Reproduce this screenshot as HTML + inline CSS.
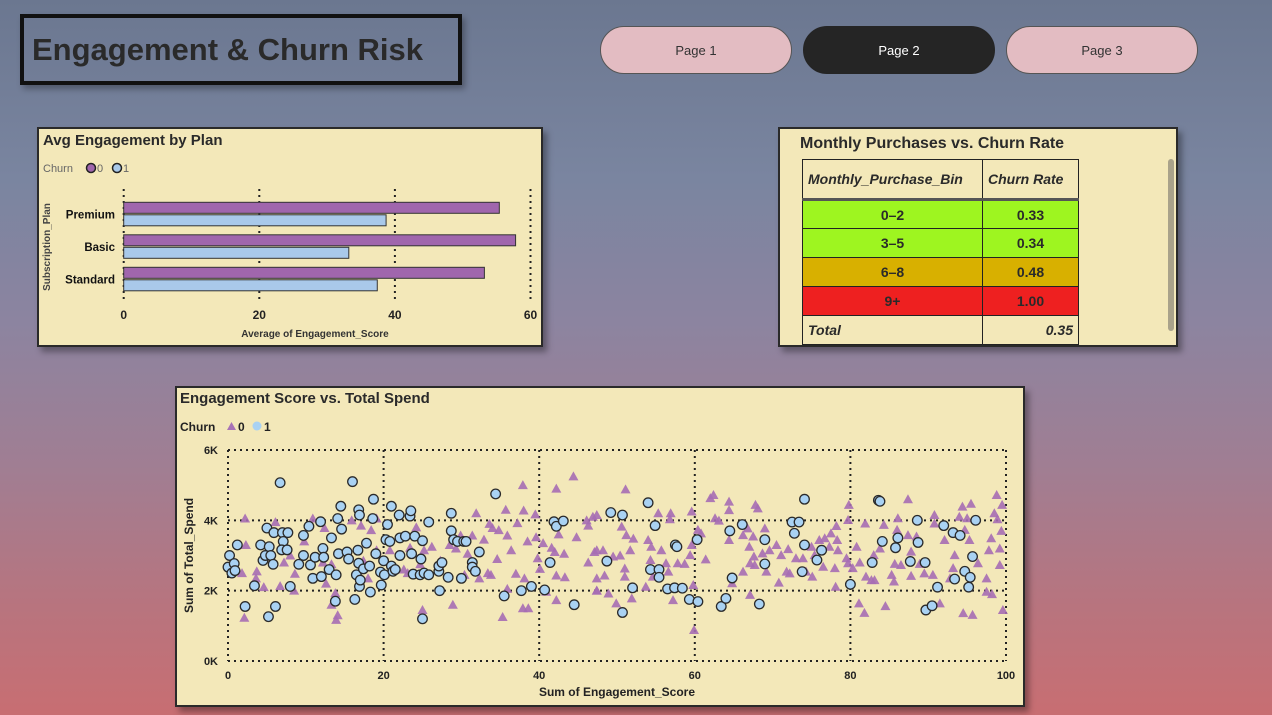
<!DOCTYPE html>
<html><head><meta charset="utf-8">
<style>
*{margin:0;padding:0;box-sizing:border-box}
body{width:1272px;height:715px;overflow:hidden;position:relative;font-family:"Liberation Sans","DejaVu Sans",sans-serif;
background:linear-gradient(180deg,#6b7790 0%,#7a85a0 25%,#8c84a0 45%,#a07e93 65%,#b8747e 85%,#c86e72 100%);}
.panel{position:absolute;background:#f3e8b9;border:2px solid #2a2a2a;box-shadow:4px 5px 6px rgba(0,0,0,0.35)}
.btn{position:absolute;top:26px;width:192px;height:48px;border-radius:24px;border:1px solid #555;background:#e3bcc2;color:#333;font-size:13px;display:flex;align-items:center;justify-content:center}
#title{position:absolute;left:20px;top:14px;width:442px;height:71px;border:4px solid #111;box-shadow:3px 4px 6px rgba(0,0,0,0.3);font-size:31px;font-weight:bold;color:#2a2a2a;padding:14px 0 0 8px}
table{border-collapse:collapse;position:absolute;left:22px;top:30px;font-size:14px;font-weight:bold;color:#2a2a2a}
td{border:1px solid #222;height:29px;text-align:center}
th{border:1px solid #222;height:40px;font-style:italic;font-size:14px;text-align:left;padding:0 5px;border-bottom:3px solid #555}
</style></head><body>
<div id="title">Engagement &amp; Churn Risk</div>
<div class="btn" style="left:600px">Page 1</div>
<div class="btn" style="left:803px;background:#252525;color:#fff;border-color:#252525">Page 2</div>
<div class="btn" style="left:1006px">Page 3</div>

<div class="panel" style="left:37px;top:127px;width:506px;height:220px">
<svg id="bar" width="506" height="220" style="position:absolute;left:-2px;top:-2px"></svg></div>

<div class="panel" style="left:778px;top:127px;width:400px;height:220px">
<div style="position:absolute;left:20px;top:6px;font-size:16px;font-weight:bold;color:#2a2a2a">Monthly Purchases vs. Churn Rate</div>
<table>
<tr><th style="width:180px">Monthly_Purchase_Bin</th><th style="width:96px">Churn Rate</th></tr>
<tr style="background:#9ef520"><td>0–2</td><td>0.33</td></tr>
<tr style="background:#9ef520"><td>3–5</td><td>0.34</td></tr>
<tr style="background:#d8b000"><td>6–8</td><td>0.48</td></tr>
<tr style="background:#ee2020"><td style="height:25px">9+</td><td>1.00</td></tr>
<tr><td style="text-align:left;padding-left:5px;font-style:italic">Total</td><td style="text-align:right;padding-right:5px;font-style:italic">0.35</td></tr>
</table>
<div style="position:absolute;left:388px;top:30px;width:6px;height:172px;background:#a9a28a;border-radius:3px"></div>
</div>

<div class="panel" style="left:175px;top:386px;width:850px;height:321px">
<svg id="sc" width="850" height="321" style="position:absolute;left:-2px;top:-2px"></svg></div>

<script>
const NS="http://www.w3.org/2000/svg";
function mk(p,t,a,txt){const e=document.createElementNS(NS,t);for(const k in a)e.setAttribute(k,a[k]);if(txt!==undefined)e.textContent=txt;p.appendChild(e);return e;}

// ---- bar chart data ----
const plans=["Premium","Basic","Standard"];
const churn0=[55.4,57.8,53.2];
const churn1=[38.7,33.2,37.4];
const barTicks=[0,20,40,60];
(function(){
 const s=document.getElementById('bar');
 const X=v=>86.7+v*6.78;
 let t=mk(s,'text',{x:6,y:18,'font-size':15,'font-weight':'bold',fill:'#2a2a2a'},'Avg Engagement by Plan');
 
 mk(s,'text',{x:6,y:45,'font-size':11,fill:'#666'},'Churn');
 mk(s,'circle',{cx:54,cy:41,r:4.5,fill:'#a066ad',stroke:'#222','stroke-width':1.5});
 mk(s,'text',{x:60,y:45,'font-size':11,fill:'#666'},'0');
 mk(s,'circle',{cx:80,cy:41,r:4.5,fill:'#a9c9ea',stroke:'#222','stroke-width':1.5});
 mk(s,'text',{x:86,y:45,'font-size':11,fill:'#666'},'1');
 barTicks.forEach(v=>{
  mk(s,'line',{x1:X(v),x2:X(v),y1:62,y2:175,stroke:'#222','stroke-width':2,'stroke-dasharray':'2,4'});
  const l=mk(s,'text',{x:X(v),y:192,'font-size':12,'font-weight':'bold','text-anchor':'middle',fill:'#222'},v);
  
 });
 plans.forEach((p,i)=>{
  const y=75.3+i*32.5;
  const a=mk(s,'rect',{x:X(0),y:y,width:X(churn0[i])-X(0),height:11,fill:'#a066ad',stroke:'#333','stroke-width':1});
  
  const b=mk(s,'rect',{x:X(0),y:y+12.5,width:X(churn1[i])-X(0),height:11,fill:'#a9c9ea',stroke:'#333','stroke-width':1});
  
  mk(s,'text',{x:78,y:y+16,'font-size':11.5,'font-weight':'bold','text-anchor':'end',fill:'#111'},p);
 });
 mk(s,'text',{x:0,y:0,'font-size':10,'font-weight':'bold',fill:'#444','text-anchor':'middle',transform:'translate(13,120) rotate(-90)'},'Subscription_Plan');
 const xt=mk(s,'text',{x:278,y:210,'font-size':10,'font-weight':'bold','text-anchor':'middle',fill:'#333'},'Average of Engagement_Score');
 
})();

// ---- scatter data ----
const c1x=[0.2,0,0.8,0.5,0.9,1.2,2.2,3.4,4.2,4.5,5,4.8,5.3,5.5,5.2,5.8,5.9,6.1,6.7,7,7.1,6.9,7.7,7.6,8,9.1,9.7,9.7,10.4,10.6,10.9,11.2,11.9,12,12.2,12.3,13,13.3,13.9,13.8,14.1,14.2,14.5,14.6,15.3,15.5,16,16.3,16.5,16.7,16.8,16.8,16.9,16.9,17,17.4,17.8,18.2,18.3,18.6,18.7,19,19.6,19.7,20,20.1,20.3,20.5,20.8,21,21,21.2,21.5,22,22.1,22.1,22.8,23.4,23.5,23.6,23.8,24,24.7,24.8,25,25,25.2,25.8,25.8,27.1,27.1,27.2,27.5,28.3,28.7,28.7,29,29.5,30,30.3,30.6,31.4,31.4,31.8,32.3,34.4,35.5,37.7,39,40.7,41.4,41.9,42.2,43.1,44.5,49.2,50.7,48.7,50.7,52,54,54.9,54.3,55.4,55.4,56.5,57.4,58.4,57.5,57.7,59.3,60.3,60.4,63.4,64,64.5,64.8,66.1,68.3,69,69,72.5,73.4,72.8,74.1,74.1,73.8,75.7,76.3,80,82.8,83.6,83.8,84.1,85.8,86.1,87.7,88.6,88.7,89.6,89.7,90.5,91.2,92,93.2,93.4,94.1,94.7,95.2,95.4,95.7,96.1];
const c1y=[3.0,2.67,2.77,2.5,2.57,3.3,1.55,2.14,3.3,2.86,3.78,3.0,3.25,3.0,1.26,2.75,3.65,1.55,5.07,3.65,3.4,3.16,3.65,3.16,2.12,2.75,3.0,3.57,3.83,2.73,2.35,2.95,3.96,2.4,3.2,2.95,2.6,3.5,2.45,1.7,4.05,3.05,4.4,3.75,3.1,2.9,5.1,1.75,2.45,3.15,2.78,4.3,4.15,2.12,2.3,2.62,3.35,2.7,1.96,4.05,4.6,3.05,2.53,2.16,2.85,2.45,3.45,3.88,3.4,4.4,2.7,2.55,2.6,4.15,3.0,3.5,3.55,4.12,4.27,3.05,2.47,3.55,2.45,2.9,3.42,1.2,2.5,2.45,3.95,2.55,2.7,2.0,2.8,2.38,4.2,3.7,3.45,3.4,2.35,3.4,3.4,2.8,2.67,2.55,3.1,4.75,1.85,2.0,2.12,2.02,2.8,3.96,3.83,3.98,1.6,4.22,4.15,2.84,1.38,2.08,4.5,3.85,2.6,2.6,2.38,2.05,2.08,2.07,3.3,3.25,1.75,3.45,1.69,1.55,1.78,3.7,2.36,3.88,1.62,3.45,2.76,3.95,3.95,3.63,4.6,3.3,2.54,2.87,3.15,2.18,2.8,4.57,4.54,3.4,3.22,3.5,2.83,4.0,3.37,2.8,1.45,1.57,2.1,3.85,3.65,2.33,3.57,2.55,2.1,2.38,2.97,4.0];
const c0x=[2.2,2.3,1.8,2.1,3.7,3.6,4.6,6.1,6.7,7.2,8,8.5,8.6,9.8,10.9,12.4,12.2,12.6,13.3,13.3,13.8,13.9,14.1,15.9,17.1,17.4,18,18.4,19.1,19.1,20.8,22.6,23.1,23.4,24.2,24.7,25,25.2,26.2,27.3,28.5,28.9,29.3,29.9,30.4,30.8,31.4,31.9,32.3,32.9,33.4,33.6,33.8,34,34.6,34.8,35.3,35.7,35.9,35.9,36.4,37.2,37,37.9,38,37.9,38.6,38.5,38.1,39.5,39.6,39.8,40.1,40.5,40.9,41.6,42,42.2,42.2,42.5,42.2,43.3,43.2,44.4,44.8,46.1,46.3,46.3,47.4,47.4,47.4,46.9,47.1,47.4,47.4,48.2,48.4,48.9,49.5,49.9,50.4,50.6,51,51.1,51,51.2,51.7,51.9,52.1,53.7,54,54.3,54.4,54.6,55.3,55.7,56.3,56.6,56.9,56.8,57.2,57.8,58.7,59.6,59.4,59.6,59.8,59.9,60.4,60.8,61.4,62,62.4,62.6,63.1,64.4,64.4,64.4,64.8,66.2,66.2,66.8,67,67.1,67.1,67.5,67.6,67.7,67.8,68.1,68.7,69,69.2,69.6,70.5,70.8,71.1,71.8,72,72.2,73,73.9,74.3,75,75.1,75.4,76,76.5,76.7,77.3,77.5,78,78.1,78.3,78.4,78.2,79.5,79.7,79.8,79.7,80.3,80.8,81.1,81.2,81.8,81.9,82,82.7,83,83.1,83.8,84.3,84.5,85.3,85.6,85.7,86,86.1,86.5,87.4,87.4,87.8,87.8,88.5,88.9,89.5,90.6,90.8,90.8,91.5,92.1,92.8,93.2,93.4,94,94.4,94.5,94.7,95,95.3,95.5,95.7,96.4,97.5,97.5,97.8,98.1,98.2,98.5,98.8,98.9,99.2,99.2,99.4,99.5,99.6];
const c0y=[4.05,3.3,2.5,1.23,2.55,2.35,2.1,3.95,2.13,2.8,3.0,2.0,2.48,3.4,4.05,3.78,2.8,2.2,2.75,1.6,1.93,1.17,1.3,4.0,3.85,2.85,2.35,3.72,4.05,3.15,3.15,2.6,2.5,3.22,3.8,2.75,1.45,3.15,3.25,2.85,3.3,1.6,3.2,3.57,2.45,3.05,3.57,4.2,2.35,3.45,2.5,3.9,2.45,3.78,2.9,3.72,1.25,4.3,3.57,2.05,3.15,3.92,2.48,5.0,4.28,1.5,1.5,3.4,2.35,4.17,3.52,2.92,2.62,3.35,1.97,3.22,3.1,4.9,1.73,3.6,2.43,2.38,3.05,5.25,3.52,4.0,2.8,3.85,3.15,4.15,2.0,4.1,3.1,2.35,2.0,3.15,2.43,1.92,2.97,1.64,3.0,3.82,2.63,4.88,2.4,3.58,3.15,1.78,3.48,2.11,3.44,2.87,3.25,2.4,4.2,3.15,2.78,2.54,4.2,4.03,1.73,2.78,2.76,4.25,3.01,3.3,2.16,0.88,3.73,3.63,2.89,4.63,4.72,4.06,3.99,4.53,4.29,3.44,2.21,3.58,2.54,3.77,3.25,1.88,2.78,3.54,2.97,2.73,4.44,4.34,3.06,3.77,2.54,3.15,3.3,2.23,3.01,2.54,3.18,2.49,2.92,2.92,2.54,3.25,2.4,3.01,3.44,2.68,3.49,3.25,3.63,2.64,2.11,3.44,3.15,3.84,2.92,4.01,4.44,2.78,2.64,3.25,1.64,2.8,1.37,3.91,2.4,2.3,3.01,2.3,3.2,3.87,1.56,2.45,2.26,2.76,3.73,4.06,2.73,4.6,3.58,3.11,2.42,3.54,2.76,2.49,2.45,4.15,3.91,1.64,3.44,2.35,2.64,3.01,4.1,4.39,1.36,3.73,4.06,3.44,4.47,1.31,2.78,2.35,1.97,3.15,3.49,1.9,4.2,4.72,4.03,3.2,2.73,3.7,4.44,1.45];
const xTicks=[0,20,40,60,80,100];
const yTicks=[0,2,4,6];
const yLabels=["0K","2K","4K","6K"];
(function(){
 const s=document.getElementById('sc');
 const ox=175,oy=386;
 const X=v=>228-ox+v*7.78, Y=v=>661-oy-v*35.17;
 const t=mk(s,'text',{x:5,y:17,'font-size':15,'font-weight':'bold',fill:'#2a2a2a'},'Engagement Score vs. Total Spend');
 
 mk(s,'text',{x:5,y:45,'font-size':12,'font-weight':'bold',fill:'#222'},'Churn');
 mk(s,'polygon',{points:'52,44 61,44 56.5,36',fill:'#a873b6'});
 mk(s,'text',{x:63,y:45,'font-size':12,'font-weight':'bold',fill:'#222'},'0');
 mk(s,'circle',{cx:82,cy:40,r:4.5,fill:'#a9d2f3'});
 mk(s,'text',{x:89,y:45,'font-size':12,'font-weight':'bold',fill:'#222'},'1');
 yTicks.forEach((v,i)=>{
  mk(s,'line',{x1:X(0),x2:X(100),y1:Y(v),y2:Y(v),stroke:'#222','stroke-width':2,'stroke-dasharray':'2,4'});
  const l=mk(s,'text',{x:X(0)-10,y:Y(v)+4,'font-size':11,'font-weight':'bold','text-anchor':'end',fill:'#222'},yLabels[i]);
  
 });
 xTicks.forEach(v=>{
  mk(s,'line',{x1:X(v),x2:X(v),y1:Y(6),y2:Y(0),stroke:'#222','stroke-width':2,'stroke-dasharray':'2,4'});
  const l=mk(s,'text',{x:X(v),y:Y(0)+18,'font-size':11,'font-weight':'bold','text-anchor':'middle',fill:'#222'},v);
  
 });
 c0x.forEach((v,i)=>{
  const x=X(v),y=Y(c0y[i]);
  const p=mk(s,'polygon',{points:`${x-5},${y+4} ${x+5},${y+4} ${x},${y-5}`,fill:'#a66db4','fill-opacity':0.9});
  
 });
 c1x.forEach((v,i)=>{
  const c=mk(s,'circle',{cx:X(v),cy:Y(c1y[i]),r:4.8,fill:'#a9d2f3',stroke:'#2a2a2a','stroke-width':1.3});
  
 });
 const yt=mk(s,'text',{x:0,y:0,'font-size':12,'font-weight':'bold',fill:'#222','text-anchor':'middle',transform:`translate(18,${Y(3)}) rotate(-90)`},'Sum of Total_Spend');
 
 const xt=mk(s,'text',{x:X(50),y:310,'font-size':12,'font-weight':'bold','text-anchor':'middle',fill:'#222'},'Sum of Engagement_Score');
 
})();
</script>
</body></html>
